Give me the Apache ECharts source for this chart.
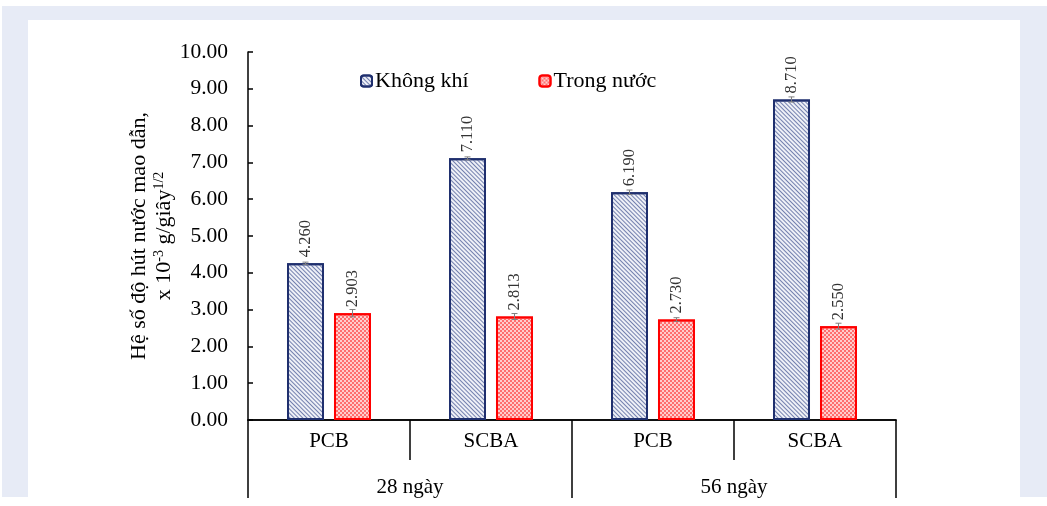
<!DOCTYPE html>
<html>
<head>
<meta charset="utf-8">
<script src="https://cdn.jsdelivr.net/npm/echarts@6/dist/echarts.min.js"></script>
<style>
  html, body { margin: 0; padding: 0; background: #ffffff; }
  #frame { position: absolute; left: 2px; top: 6px; width: 1045px; height: 491px; background: #e7ebf6; }
  #panel { position: absolute; left: 28px; top: 20px; width: 992px; height: 486px; background: #ffffff; }
  #chart { position: absolute; left: 0; top: 0; width: 1047px; height: 506px; }
</style>
</head>
<body>
<div id="frame"></div>
<div id="panel"></div>
<div id="chart"></div>
<script>
// ---- data ----
var materials = ['PCB', 'SCBA', 'PCB', 'SCBA'];
var ages = ['28 ngày', '56 ngày'];
var seriesNames = ['Không khí', 'Trong nước'];
var airValues = [4.260, 7.110, 6.190, 8.710];
var waterValues = [2.903, 2.813, 2.730, 2.550];
var airErrors = [0.03, 0.04, 0.06, 0.07];
var waterErrors = [0.10, 0.08, 0.05, 0.08];
var yTicks = { min: 0, max: 10, interval: 1 };

// ---- style ----
var FONT = '"Liberation Serif", "Times New Roman", serif';
var BAR_W = 37;
var BAR_GAP = 10;

var chart = echarts.init(document.getElementById('chart'), null, { renderer: 'canvas' });

function errData(vals, errs) {
  return vals.map(function (v, i) { return [i, v, errs[i]]; });
}
function errSeries(vals, errs, side) {
  return {
    type: 'custom',
    xAxisIndex: 0,
    z: 5,
    silent: true,
    encode: { x: 0, y: 1 },
    data: errData(vals, errs),
    renderItem: function (params, api) {
      var i = api.value(0), v = api.value(1), e = api.value(2);
      var off = side * (BAR_W + BAR_GAP) / 2;
      var t = api.coord([i, v + e]);
      var b = api.coord([i, v - e]);
      var cx = t[0] + off;
      var cap = 3;
      var st = { stroke: '#808080', lineWidth: 1 };
      return {
        type: 'group',
        children: [
          { type: 'line', shape: { x1: cx, y1: t[1], x2: cx, y2: b[1] }, style: st },
          { type: 'line', shape: { x1: cx - cap, y1: t[1], x2: cx + cap, y2: t[1] }, style: st },
          { type: 'line', shape: { x1: cx - cap, y1: b[1], x2: cx + cap, y2: b[1] }, style: st }
        ]
      };
    }
  };
}

var labelCfg = {
  show: true,
  position: 'top',
  rotate: 90,
  align: 'left',
  verticalAlign: 'middle',
  distance: 6,
  fontFamily: FONT,
  fontSize: 16.5,
  color: '#333333',
  formatter: function (p) { return p.value.toFixed(3); }
};

var option = {
  backgroundColor: 'transparent',
  animation: false,
  textStyle: { fontFamily: FONT },
  legend: {
    data: seriesNames,
    left: 355,
    top: 65,
    itemWidth: 11,
    itemHeight: 11,
    itemGap: 70,
    textStyle: { fontFamily: FONT, fontSize: 22, color: '#000000', padding: [0, 0, 0, -2] }
  },
  grid: { left: 248, right: 151, top: 52, bottom: 86 },
  xAxis: [
    {
      type: 'category',
      data: materials,
      position: 'bottom',
      axisLine: { show: true, lineStyle: { color: '#000000', width: 1.5 } },
      axisTick: { show: true, length: 40, interval: 0, lineStyle: { color: '#000000', width: 1.5 } },
      axisLabel: { interval: 0, margin: 11, fontFamily: FONT, fontSize: 21, color: '#000000' }
    },
    {
      type: 'category',
      data: ages,
      position: 'bottom',
      axisLine: { show: true, lineStyle: { color: '#000000', width: 1.5 } },
      axisTick: { show: true, length: 78, interval: 0, lineStyle: { color: '#000000', width: 1.5 } },
      axisLabel: { interval: 0, margin: 57, fontFamily: FONT, fontSize: 21, color: '#000000' }
    }
  ],
  yAxis: {
    type: 'value',
    min: yTicks.min,
    max: yTicks.max,
    interval: yTicks.interval,
    splitLine: { show: false },
    axisLine: { show: true, lineStyle: { color: '#000000', width: 1.5 } },
    axisTick: { show: true, inside: true, length: 5, lineStyle: { color: '#000000', width: 1.5 } },
    axisLabel: {
      margin: 20, fontFamily: FONT, fontSize: 21.5, color: '#000000',
      formatter: function (v) { return v.toFixed(2); }
    },
    name: '{a|Hệ số độ hút nước mao dẫn,}\n{a|x 10}{s|-3}{a| g/giây}{s|1/2}',
    nameLocation: 'middle',
    nameRotate: 90,
    nameGap: 71,
    nameMoveOverlap: false,
    nameTextStyle: {
      fontFamily: FONT,
      rich: {
        a: { fontFamily: FONT, fontSize: 22, color: '#000000', lineHeight: 25 },
        s: { fontFamily: FONT, fontSize: 14, color: '#000000', lineHeight: 25, verticalAlign: 'top', padding: [0, 0, 10, 0] }
      }
    }
  },
  series: [
    {
      name: seriesNames[0],
      type: 'bar',
      xAxisIndex: 0,
      data: airValues,
      barWidth: BAR_W,
      barGap: (BAR_GAP / BAR_W * 100).toFixed(0) + '%',
      itemStyle: {
        color: '#eef0f7',
        borderColor: '#1f2f6e',
        borderWidth: 2,
        decal: {
          symbol: 'rect',
          symbolSize: 1,
          dashArrayX: [1, 0],
          dashArrayY: [1, 1.8],
          rotation: Math.PI / 4,
          color: '#7380ae'
        }
      },
      label: labelCfg
    },
    {
      name: seriesNames[1],
      type: 'bar',
      xAxisIndex: 0,
      data: waterValues,
      barWidth: BAR_W,
      itemStyle: {
        color: '#ffcdcd',
        borderColor: '#ff0000',
        borderWidth: 2,
        decal: {
          symbol: 'rect',
          symbolSize: 1,
          dashArrayX: [[2, 2], [0, 2, 2, 0]],
          dashArrayY: [2, 0],
          rotation: 0,
          color: '#ff6e6e'
        }
      },
      label: labelCfg
    },
    errSeries(airValues, airErrors, -1),
    errSeries(waterValues, waterErrors, 1)
  ]
};
chart.setOption(option);
</script>
</body>
</html>
